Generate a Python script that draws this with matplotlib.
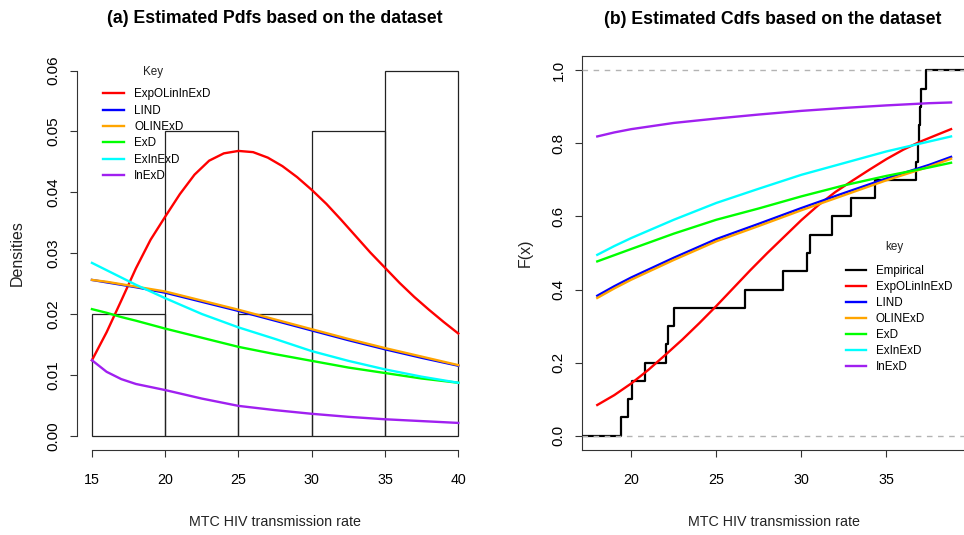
import numpy as np
import matplotlib
matplotlib.use('Agg')
from matplotlib import pyplot as plt
from matplotlib.ticker import FormatStrFormatter

plt.rcParams['font.family'] = ['Liberation Sans', 'DejaVu Sans']

rates = [19.37, 19.82, 20.02, 20.80, 22.07, 22.17, 22.50, 26.71, 28.92, 30.33,
         30.49, 31.82, 32.92, 34.34, 36.74, 36.83, 36.89, 36.97, 37.05, 37.33]
bin_edges = [15, 20, 25, 30, 35, 40]

models = ['ExpOLinInExD', 'LIND', 'OLINExD', 'ExD', 'ExInExD', 'InExD']
colors = ['#ff0000', '#0000ff', '#ffa500', '#00ff00', '#00ffff', '#a020f0']

# fitted densities, panel (a)
red_pdf_x = [15, 16, 17, 18, 19, 20, 21, 22, 23, 24, 25, 26, 27, 28, 29, 30, 31, 32,
             33, 34, 35, 36, 37, 38, 39, 40]
red_pdf = [0.0124, 0.0170, 0.0222, 0.0275, 0.0322, 0.0360, 0.0397, 0.0429, 0.0452,
           0.0464, 0.0468, 0.0466, 0.0457, 0.0443, 0.0425, 0.0404, 0.0381, 0.0355,
           0.0328, 0.0301, 0.0276, 0.0251, 0.0228, 0.0207, 0.0187, 0.0168]
pdf_x = [15, 16, 17, 18, 20, 22.5, 25, 27.5, 30, 32.5, 35, 37.5, 40]
lind_pdf = [0.0256, 0.0252, 0.0248, 0.0244, 0.0235, 0.0220, 0.0205, 0.0189, 0.0173,
            0.0157, 0.0142, 0.0128, 0.0115]
olinexd_pdf = [0.0256, 0.0253, 0.0249, 0.0245, 0.0237, 0.0222, 0.0207, 0.0191, 0.0175,
               0.0159, 0.0144, 0.0130, 0.0116]
exd_pdf = [0.0208, 0.0202, 0.0195, 0.0189, 0.0176, 0.0161, 0.0146, 0.0134, 0.0123,
           0.0112, 0.0103, 0.0094, 0.0087]
exinexd_pdf = [0.0284, 0.0272, 0.0260, 0.0248, 0.0226, 0.0200, 0.0178, 0.0159, 0.0139,
               0.0123, 0.0109, 0.0097, 0.0087]
inexd_pdf = [0.0124, 0.0105, 0.0093, 0.0085, 0.0075, 0.0061, 0.0049, 0.0042, 0.0036,
             0.0031, 0.0027, 0.0024, 0.0021]

# fitted cdfs, panel (b)
red_cdf_x = [18, 19, 20, 21, 22, 23, 24, 25, 26, 27, 28, 29, 30, 31, 32, 33, 34, 35,
             36, 37, 38, 38.8]
red_cdf = [0.084, 0.111, 0.143, 0.180, 0.221, 0.263, 0.308, 0.355, 0.404, 0.453, 0.500,
           0.545, 0.590, 0.631, 0.667, 0.698, 0.728, 0.757, 0.783, 0.805, 0.824, 0.839]
cdf_x = [18, 19, 20, 22.5, 25, 27.5, 30, 32.5, 35, 37.5, 38.8]
lind_cdf = [0.383, 0.409, 0.433, 0.487, 0.538, 0.580, 0.623, 0.664, 0.704, 0.741, 0.763]
olinexd_cdf = [0.377, 0.403, 0.427, 0.481, 0.532, 0.574, 0.617, 0.658, 0.699, 0.736, 0.758]
exd_cdf = [0.477, 0.494, 0.511, 0.553, 0.591, 0.622, 0.655, 0.685, 0.711, 0.734, 0.747]
exinexd_cdf = [0.495, 0.519, 0.541, 0.591, 0.637, 0.676, 0.714, 0.746, 0.778, 0.805, 0.819]
inexd_cdf = [0.819, 0.830, 0.839, 0.856, 0.868, 0.879, 0.889, 0.897, 0.904, 0.910, 0.912]

W, H = 964, 535
fig = plt.figure(figsize=(W / 100, H / 100), dpi=100)
fig.patch.set_facecolor('white')


def px_axes(x0, y0, x1, y1):
    return fig.add_axes([x0 / W, 1 - y1 / H, (x1 - x0) / W, (y1 - y0) / H])


def style_ticks(ax):
    ax.tick_params(direction='out', length=5, width=0.8, color='#333333')
    ax.tick_params(axis='x', labelsize=10.3, pad=11.5)
    ax.tick_params(axis='y', labelsize=11, pad=7, labelrotation=90)
    for lab in ax.get_yticklabels():
        lab.set_va('center')


lw = 1.7

# ---- (a) pdfs
ax1 = px_axes(77.3, 56, 472.9, 450.3)
ax1.hist(rates, bins=bin_edges, density=True, fill=False, edgecolor='#222222',
         linewidth=0.9)
pdf_series = [(red_pdf_x, red_pdf), (pdf_x, lind_pdf), (pdf_x, olinexd_pdf),
              (pdf_x, exd_pdf), (pdf_x, exinexd_pdf), (pdf_x, inexd_pdf)]
for (xs, ys), name, c in zip(pdf_series, models, colors):
    ax1.plot(xs, ys, color=c, lw=lw, label=name, zorder=3)
ax1.set_xlim(14, 41)
ax1.set_ylim(-0.0024, 0.0624)
ax1.set_xticks(bin_edges)
ax1.set_yticks([0, 0.01, 0.02, 0.03, 0.04, 0.05, 0.06])
ax1.yaxis.set_major_formatter(FormatStrFormatter('%.2f'))
for s in ['top', 'right']:
    ax1.spines[s].set_visible(False)
ax1.spines['left'].set_bounds(0, 0.06)
ax1.spines['bottom'].set_bounds(15, 40)
for s in ['left', 'bottom']:
    ax1.spines[s].set_color('#333333')
    ax1.spines[s].set_linewidth(0.8)
style_ticks(ax1)
ax1.set_xlabel('MTC HIV transmission rate', fontsize=10.3, va='center', color='#222222')
ax1.xaxis.set_label_coords(0.5, (450.3 - 522.5) / 394.3)
ax1.set_ylabel('Densities', fontsize=11.5, va='center', color='#222222')
ax1.yaxis.set_label_coords((17.5 - 77.3) / 395.6, 0.5)
ax1.set_title('(a) Estimated Pdfs based on the dataset', fontsize=12.7,
              fontweight='bold', y=(450.3 - 19) / 394.3, va='center', pad=0)
ax1.legend(loc='upper left', bbox_to_anchor=(103 / W, 1 - 88.5 / H),
           bbox_transform=fig.transFigure, frameon=False, fontsize=8.4,
           borderpad=0, borderaxespad=0, handlelength=1.8, handletextpad=0.86,
           labelspacing=0.37)
fig.text(153 / W, 1 - 72 / H, 'Key', fontsize=8.4, ha='center', va='center',
         color='#222222')

# ---- (b) cdfs
ax2 = px_axes(582.3, 55.7, 965, 450.3)
xlo, xhi = 17.12, 39.62
srt = np.sort(rates)
ecdf = np.arange(1, len(srt) + 1) / len(srt)
ax2.step(np.concatenate([[xlo], srt, [xhi]]), np.concatenate([[0], ecdf, [1]]),
         where='post', color='black', lw=1.6, label='Empirical', zorder=3)
ax2.axhline(0, color='#b3b3b3', ls=(0, (4, 4)), lw=1, zorder=4)
ax2.axhline(1, color='#b3b3b3', ls=(0, (4, 4)), lw=1, zorder=4)
cdf_series = [(red_cdf_x, red_cdf), (cdf_x, lind_cdf), (cdf_x, olinexd_cdf),
              (cdf_x, exd_cdf), (cdf_x, exinexd_cdf), (cdf_x, inexd_cdf)]
for (xs, ys), name, c in zip(cdf_series, models, colors):
    ax2.plot(xs, ys, color=c, lw=lw, label=name, zorder=5)
ax2.set_xlim(xlo, xhi)
ax2.set_ylim(-0.04, 1.04)
ax2.set_xticks([20, 25, 30, 35])
ax2.set_yticks([0, 0.2, 0.4, 0.6, 0.8, 1.0])
ax2.yaxis.set_major_formatter(FormatStrFormatter('%.1f'))
for s in ax2.spines.values():
    s.set_color('#333333')
    s.set_linewidth(0.8)
style_ticks(ax2)
ax2.set_xlabel('MTC HIV transmission rate', fontsize=10.3, va='center', color='#222222')
ax2.xaxis.set_label_coords((773.6 - 582.3) / 382.7, (450.3 - 522.5) / 394.6)
ax2.set_ylabel('F(x)', fontsize=11.5, va='center', color='#222222')
ax2.yaxis.set_label_coords((525 - 582.3) / 382.7, 0.5)
fig.text(772.9 / W, 1 - 19 / H, '(b) Estimated Cdfs based on the dataset',
         fontsize=12.7, fontweight='bold', ha='center', va='center')
ax2.legend(loc='upper left', bbox_to_anchor=(845.7 / W, 1 - 265 / H),
           bbox_transform=fig.transFigure, frameon=False, fontsize=8.4,
           borderpad=0, borderaxespad=0, handlelength=1.71, handletextpad=0.86,
           labelspacing=0.34)
fig.text(894.3 / W, 1 - 247.3 / H, 'key', fontsize=8.4, ha='center', va='center',
         color='#222222')

fig.savefig('out.png', dpi=100)
